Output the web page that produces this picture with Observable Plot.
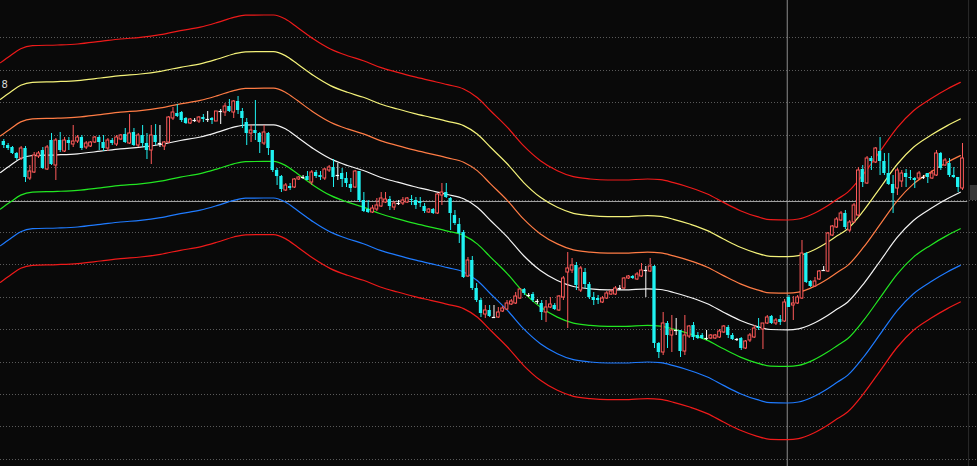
<!DOCTYPE html>
<html><head><meta charset="utf-8">
<script src="https://cdn.jsdelivr.net/npm/d3@7"></script>
<script src="https://cdn.jsdelivr.net/npm/@observablehq/plot@0.6"></script>
<style>
html,body{margin:0;padding:0;background:#090909;overflow:hidden}
#chart svg{display:block}
</style></head><body><div id="chart"></div>
<script>
// OHLC prices, one per session (index 0..221)
const open = [
35.9,35.5,35.3,34.7,34.2,35.2,32.2,32.8,34.4,35.0,
33.1,36.0,33.5,36.0,34.9,36.0,35.6,35.9,36.3,35.3,
35.4,35.8,36.3,35.8,35.2,36.0,35.6,36.1,36.6,35.7,
36.8,35.5,36.5,35.7,35.0,36.5,35.7,35.4,35.8,38.2,
38.7,38.8,38.2,37.7,38.0,37.9,38.3,38.1,38.2,37.9,
38.9,38.8,39.4,38.8,39.9,38.9,37.8,36.7,37.0,36.7,
35.7,36.7,35.0,33.0,32.4,31.0,31.4,31.3,32.1,32.3,
32.4,31.8,32.8,32.5,32.2,33.0,33.3,32.5,32.7,32.2,
31.6,31.3,32.9,30.0,29.1,28.8,29.1,29.4,29.8,30.1,
29.3,29.7,29.7,29.8,30.1,30.0,29.9,29.4,28.8,29.1,
28.7,30.5,30.8,30.2,28.5,27.6,26.8,22.4,24.0,21.2,
20.0,18.6,19.0,18.3,18.3,18.9,19.1,19.6,19.7,20.2,
21.1,20.5,20.6,19.9,19.7,18.8,19.3,19.5,19.0,20.3,
22.8,23.0,23.5,21.0,22.8,21.6,20.3,20.2,19.8,20.2,
20.6,20.6,21.2,21.2,22.2,22.4,22.1,22.4,23.0,22.9,
23.4,15.7,14.8,17.7,16.5,17.0,17.0,14.9,16.4,17.5,
16.5,16.5,16.2,16.2,16.2,16.3,16.8,17.3,16.5,16.1,
16.2,15.2,16.0,16.3,17.3,17.1,17.7,18.4,17.7,18.1,
17.9,20.3,19.5,19.7,20.2,24.7,21.9,21.4,22.1,23.0,
22.9,26.5,27.3,28.0,28.7,27.0,27.8,28.5,33.1,31.7,
34.2,33.8,34.9,33.9,32.7,31.6,31.2,31.9,32.7,32.3,
32.2,32.2,32.3,32.7,32.2,32.5,34.7,33.5,33.7,32.5,
32.3,31.2];
const high = [
36.1,35.7,35.4,34.8,35.4,35.4,33.5,34.8,34.9,35.3,
35.5,36.7,36.2,36.8,36.3,36.3,37.5,36.5,36.5,35.9,
35.9,36.4,36.5,36.5,36.2,36.2,36.5,36.6,37.2,38.6,
37.2,36.7,37.5,36.7,37.5,37.6,37.5,35.9,38.4,39.3,
39.6,38.9,38.3,38.2,38.2,38.4,38.6,38.9,38.3,38.9,
39.1,39.7,40.1,40.0,40.4,39.2,38.2,37.5,40.0,36.8,
37.5,36.8,35.0,33.2,32.5,31.7,31.7,32.2,32.4,32.5,
32.9,33.0,33.0,32.9,33.2,33.5,34.1,33.7,33.2,32.8,
32.2,33.0,32.9,30.8,30.0,29.5,30.2,30.8,30.8,30.4,
29.9,30.0,30.3,30.3,30.5,30.3,30.3,29.7,29.2,29.2,
30.7,31.7,31.7,30.3,29.0,28.2,27.0,24.3,24.4,21.7,
20.2,19.5,19.5,19.5,19.3,19.4,20.0,20.1,20.8,21.2,
21.2,20.7,20.8,20.1,20.0,20.0,20.3,19.7,20.5,22.4,
24.8,24.2,23.8,23.4,23.2,21.8,20.8,20.5,20.4,20.9,
21.1,21.4,21.5,22.3,22.5,22.5,22.8,23.7,23.4,24.2,
23.5,15.8,18.8,17.9,18.5,18.2,17.0,18.5,17.5,17.8,
16.8,16.7,17.0,16.6,16.6,17.1,17.5,17.5,16.7,16.2,
16.3,16.0,16.7,17.5,18.2,17.7,18.5,18.5,18.2,18.5,
20.1,20.5,20.4,20.5,26.0,24.8,22.0,22.3,23.0,23.4,
26.8,27.5,28.3,28.9,29.0,28.0,29.7,33.3,33.5,34.4,
34.4,35.3,36.3,34.7,34.7,32.5,33.2,33.0,33.1,33.0,
32.3,32.9,32.5,32.7,33.0,35.0,34.8,34.2,34.2,33.3,
32.3,35.7];
const low = [
35.2,35.0,34.6,34.0,34.0,31.8,32.0,32.7,34.2,33.1,
33.0,33.5,32.0,34.8,34.8,35.0,35.3,35.7,35.0,35.1,
35.3,35.7,35.0,34.9,34.9,35.5,35.4,36.0,35.7,35.6,
35.4,35.3,35.3,34.1,33.6,35.5,35.3,35.0,35.7,38.0,
38.3,37.8,37.6,37.6,37.8,37.7,37.8,37.8,37.6,37.9,
37.6,38.4,38.8,38.2,38.6,37.2,35.5,35.8,36.0,34.7,
35.5,34.5,32.8,31.5,30.8,30.9,31.0,31.2,32.0,32.1,
32.0,31.5,32.2,32.0,32.0,32.8,31.3,32.0,31.3,31.3,
30.8,31.2,29.8,28.8,28.7,28.7,28.9,29.3,29.7,29.0,
29.0,29.5,29.5,29.7,29.5,29.1,29.3,28.7,28.7,28.6,
28.6,29.5,30.2,27.0,27.5,25.7,22.2,22.3,21.0,19.8,
18.3,18.2,18.3,18.2,18.2,18.8,19.0,19.5,19.6,20.1,
20.5,20.3,19.8,19.6,18.0,17.8,19.2,19.0,18.9,20.0,
17.2,22.7,21.0,20.8,21.2,20.1,19.5,19.6,19.7,20.1,
20.5,20.5,21.0,21.1,22.1,22.1,22.0,22.3,20.3,22.8,
15.2,14.2,14.5,15.2,14.8,16.5,14.3,14.5,16.2,16.0,
16.1,16.1,16.0,16.1,16.1,16.2,16.7,16.2,16.0,15.9,
15.0,15.1,15.8,16.2,17.0,15.1,17.6,17.6,17.5,17.5,
17.8,19.3,18.0,19.6,20.1,21.7,21.3,21.3,22.0,22.9,
22.8,26.4,27.2,27.9,27.1,26.8,27.7,28.3,31.3,31.6,
33.0,33.7,32.5,32.5,31.5,28.7,30.5,31.3,31.3,32.0,
31.2,32.1,32.1,31.7,32.1,32.4,33.0,33.4,32.3,32.2,
30.8,31.0];
const close = [
35.5,35.2,34.7,34.2,35.2,32.3,32.9,34.5,34.7,33.2,
35.3,33.6,36.0,35.0,36.0,35.7,35.9,36.3,35.2,35.7,
35.8,36.3,35.8,35.2,36.0,35.7,36.3,36.5,35.8,36.7,
35.5,36.5,35.7,35.0,36.5,35.8,35.7,35.8,38.3,38.8,
38.4,38.0,37.7,38.1,38.0,38.3,38.1,38.1,38.0,38.9,
38.9,39.4,38.9,39.9,39.0,38.2,36.7,37.0,36.7,35.8,
36.8,35.2,33.0,32.4,31.1,31.5,31.2,32.1,32.3,32.3,
32.0,32.8,32.4,32.3,33.1,33.3,32.3,32.5,32.1,31.7,
31.2,32.9,30.0,28.9,28.8,29.2,29.5,30.2,30.1,29.4,
29.7,29.7,30.0,30.2,30.0,29.5,29.7,28.9,29.1,28.7,
30.6,30.8,30.3,28.7,27.7,26.7,22.3,24.0,21.2,20.0,
18.7,19.0,18.4,18.3,18.8,19.2,19.7,19.9,20.4,21.1,
20.7,20.5,20.0,19.9,18.8,19.3,19.6,19.1,20.4,22.2,
23.2,23.5,21.5,23.2,21.6,20.3,20.0,20.0,20.2,20.7,
20.9,21.2,21.2,22.2,22.4,22.2,22.6,23.0,23.0,23.4,
15.7,14.8,17.7,16.5,17.0,17.0,14.9,16.5,17.4,16.3,
16.2,16.2,16.2,16.5,16.5,16.9,17.4,16.5,16.1,16.1,
15.2,15.9,16.5,17.2,17.2,17.7,18.3,17.7,18.0,17.8,
19.8,19.3,19.7,20.3,24.7,21.8,21.4,21.9,22.9,23.0,
26.7,27.4,28.1,28.7,27.3,27.8,29.5,33.0,31.8,34.2,
33.9,35.2,33.9,32.7,31.6,30.7,33.0,32.7,32.3,32.2,
32.0,32.7,32.3,32.3,32.7,34.7,33.2,34.0,32.5,32.3,
31.3,34.2];

// Envelope centre line (session index -> price) and band step
const centerIndex = [-0.76,1.5,3.9,6.6,12.4,17,22.3,26.9,31.5,36.1,40.7,45.3,49.3,53,55.7,62.2,64.9,67.7,71.4,75.3,79.2,82.9,86.8,90.8,94.5,98.4,102.3,106,109.2,112.2,116.1,119.8,123.7,127.6,131.3,135.2,139.2,142.9,148.4,151.4,154.4,158.3,162.2,165.9,169.8,173.7,176.7,180.7,183.2,186.6,189.9,192.2,194.5,198.2,202.1,206,209.7,213.6,217.5,220.5];
const centerValue = [32.8,33.5,34.2,34.5,34.57,34.67,34.93,35.17,35.33,35.6,36.0,36.35,36.83,37.33,37.55,37.57,37.17,36.33,35.17,34.17,33.5,33.0,32.33,31.83,31.4,31.0,30.6,30.17,29.3,28.0,26.33,24.5,23.0,22.0,21.4,21.17,21.07,21.07,21.17,21.1,20.8,20.3,19.67,18.83,18.0,17.4,17.1,17.07,17.17,17.7,18.5,19.17,19.83,21.67,24.0,26.33,28.0,29.17,30.17,30.83];
const bandStep = 3.66;
const bandMultipliers = [3, 2, 1, 0, -1, -2, -3];
const bandColors = ["#ee1a1a", "#f4f27a", "#ff7c45", "#f4f4f4", "#22e622", "#1f7bff", "#ee1a1a"];

const gridPrices = [46.3,43.0,39.8,36.5,33.3,30.0,26.8,23.6,20.3,17.1,13.8,10.6,7.4,4.1];
const crossPrice = 29.9;
const crossIndex = 180.6;
const crossEndIndex = 222.2;
const edgeIndex = [222.4, 222.8, 224.46];
const edgeBoxPrice = [30.0, 31.5];
const leftLabels = ["8"];
const leftLabelPrice = [41.6];

const xDomain = [-0.761, 224.46];
const yDomain = [3.4, 50];

const n = Math.min(open.length, high.length, low.length, close.length);
const candles = d3.range(n).map(i => ({i, open: open[i], high: high[i], low: low[i], close: close[i]}));
const ups = candles.filter(d => d.close > d.open);
const downs = candles.filter(d => d.close < d.open);
const dojis = candles.filter(d => d.close === d.open);
const centre = centerIndex.map((i, k) => ({i, v: centerValue[k]}));

const RED = "#ff5a5a", CYAN = "#1ff2f2", BG = "#090909";

const marks = [
  Plot.ruleY(gridPrices, {stroke: "#5a5a5a", strokeDasharray: "1,2"}),
  Plot.ruleX([crossIndex], {stroke: "#8e8e8e"}),
  Plot.ruleY([{p: crossPrice, a: xDomain[0], b: crossEndIndex}], {y: "p", x1: "a", x2: "b", stroke: "#a0a0a0"}),
  Plot.ruleX([edgeIndex[0]], {stroke: "#2a2a2a"}),
  Plot.rect([{a: edgeIndex[1], b: edgeIndex[2], lo: edgeBoxPrice[0], hi: edgeBoxPrice[1]}], {x1: "a", x2: "b", y1: "lo", y2: "hi", fill: "#383838"}),
  ...bandMultipliers.map((k, j) => Plot.line(centre, {
    x: "i", y: d => d.v + k * bandStep, stroke: bandColors[j], strokeWidth: 1.2, curve: "monotone-x"
  })),
  Plot.ruleX(ups, {x: "i", y1: "low", y2: "high", stroke: RED, strokeWidth: 1}),
  Plot.ruleX(downs, {x: "i", y1: "low", y2: "high", stroke: CYAN, strokeWidth: 1}),
  Plot.ruleX(dojis, {x: "i", y1: "low", y2: "high", stroke: "#ffffff", strokeWidth: 1}),
  Plot.rect(ups, {x1: d => d.i - 0.32, x2: d => d.i + 0.32, y1: "open", y2: "close", fill: BG, stroke: RED, strokeWidth: 1}),
  Plot.rect(downs, {x1: d => d.i - 0.38, x2: d => d.i + 0.38, y1: "open", y2: "close", fill: CYAN}),
  Plot.ruleY(dojis, {y: "open", x1: d => d.i - 0.4, x2: d => d.i + 0.4, stroke: "#ffffff", strokeWidth: 1.2}),
  Plot.text(leftLabels.map((t, k) => ({t, p: leftLabelPrice[k]})), {x: () => xDomain[0], y: "p", text: "t", textAnchor: "start", dx: 1, fill: "#d8d8d8", fontSize: 10, fontFamily: "DejaVu Sans"})
];

const chart = Plot.plot({
  width: 977,
  height: 466,
  margin: 0,
  x: {domain: xDomain, axis: null},
  y: {domain: yDomain, axis: null},
  style: {background: BG, overflow: "hidden"},
  marks
});
document.getElementById("chart").append(chart);
</script>
</body></html>
